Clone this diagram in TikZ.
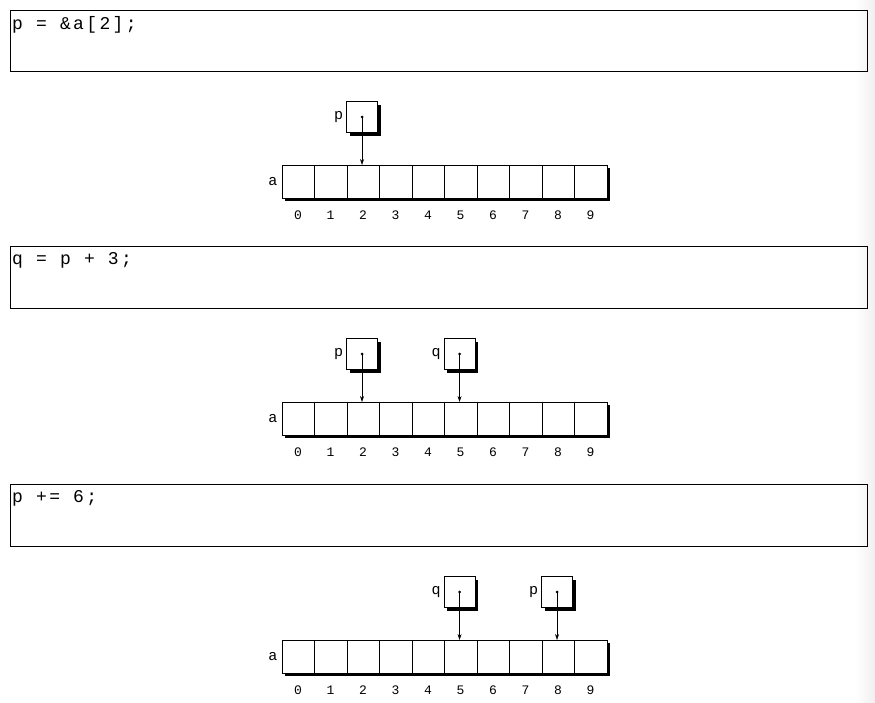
\documentclass[tikz,border=0pt]{standalone}
\usepackage{fontspec}
\newfontfamily\codefont[LetterSpace=13]{Liberation Mono}
\newfontfamily\labelfont{Liberation Mono}
\usetikzlibrary{arrows.meta,calc}
\newcommand{\mkptr}[4]{% name, label, array row, cell
  \fill[shadowfill] ($(a#3-#4.north)+(-13.5,-60.5)$) rectangle ($(a#3-#4.north)+(17.5,-29.5)$);
  \node[ptrbox] (#1) at ($(a#3-#4.north)+(-1,-48)$) {};
  \node[lbl, anchor=east] (#1l) at ($(#1.west)+(-3,0)$) {#2};
  \node[dotc] (#1d) at (#1.center) {};
  \draw[ptr] (#1d.center) -- (#1d.center |- a#3-#4.north);
}
\begin{document}
\begin{tikzpicture}[x=1pt,y=-1pt,
  codebox/.style={draw, line width=1.3pt},
  codetext/.style={anchor=base west, inner sep=0pt, font=\codefont\fontsize{18}{20}\selectfont},
  cell/.style={draw, line width=0.6pt, fill=white, minimum width=32.5pt, minimum height=32.5pt, inner sep=0pt, anchor=north west},
  ptrbox/.style={draw, line width=0.6pt, fill=white, minimum width=31pt, minimum height=31pt, inner sep=0pt},
  shadowfill/.style={fill=black},
  lbl/.style={font=\labelfont\fontsize{15}{15}\selectfont, inner sep=0pt},
  idx/.style={font=\labelfont\fontsize{13}{13}\selectfont, inner sep=0pt},
  ptr/.style={-{Stealth[length=6pt,width=4pt]}, line width=0.6pt},
  dotc/.style={circle, fill=black, inner sep=0pt, minimum size=3pt}
]
\useasboundingbox (0,0) rectangle (875,702);
\fill[white] (0,0) rectangle (875,702);
\shade[left color=white, right color=black!6] (855,0) rectangle (875,702);

% code boxes
\node[codebox, minimum width=857pt, minimum height=61.5pt, anchor=north west, inner sep=0pt] (c1) at (10,9.5) {};
\node[codetext] (t1) at (12,29.5) {p = \&a[2];};
\node[codebox, minimum width=857pt, minimum height=62.5pt, anchor=north west, inner sep=0pt] (c2) at (10,245.5) {};
\node[codetext] (t2) at (12,264.5) {q = p + 3;};
\node[codebox, minimum width=857pt, minimum height=62.5pt, anchor=north west, inner sep=0pt] (c3) at (10,483.5) {};
\node[codetext] (t3) at (12,502.5) {p += 6;};

% arrays
\foreach \k/\top in {1/165, 2/402, 3/640} {
  \fill[shadowfill] (284.5,\top+3) rectangle (609.5,\top+35.5);
  \foreach \i in {0,...,9} {
    \node[cell] (a\k-\i) at (281.5+32.5*\i,\top) {};
    \node[idx] (n\k-\i) at ($(a\k-\i.south)+(0,17)$) {\i};
  }
  \node[lbl, anchor=east] (al\k) at ($(a\k-0.west)+(-4,0)$) {a};
}

% pointer boxes
\mkptr{p1}{p}{1}{2}
\mkptr{p2}{p}{2}{2}
\mkptr{q2}{q}{2}{5}
\mkptr{q3}{q}{3}{5}
\mkptr{p3}{p}{3}{8}
\end{tikzpicture}
\end{document}
